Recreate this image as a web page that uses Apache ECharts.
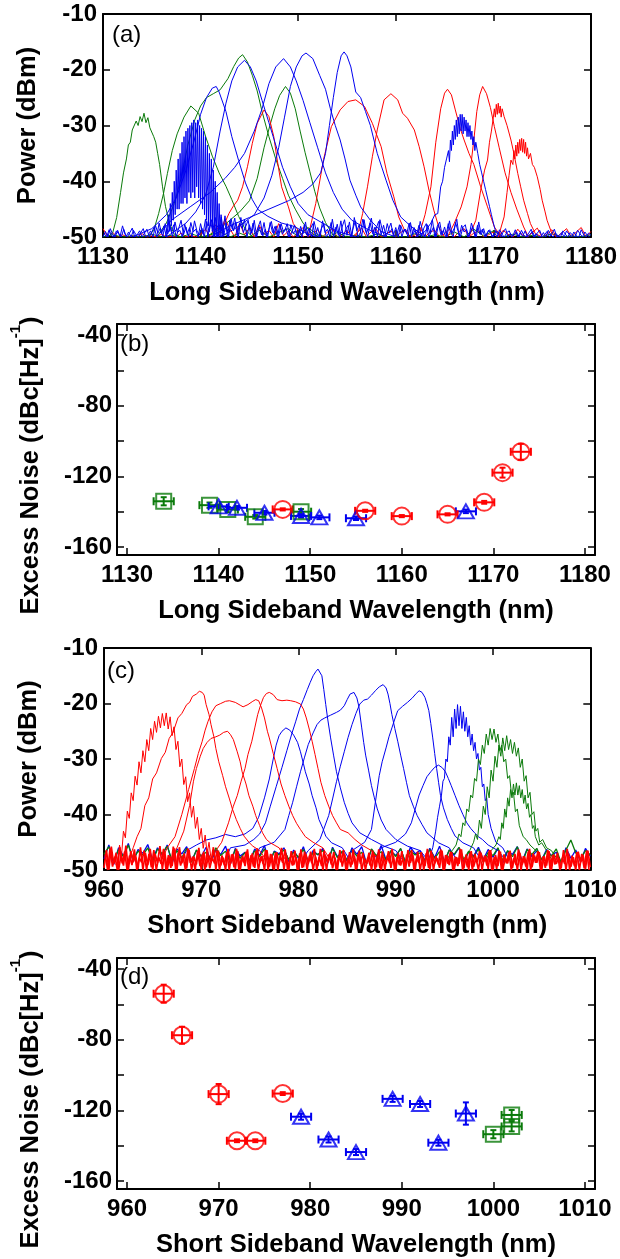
<!DOCTYPE html>
<html><head><meta charset="utf-8">
<script src="https://cdn.jsdelivr.net/npm/echarts@6/dist/echarts.min.js"></script>
<style>html,body{margin:0;padding:0;background:#fff}#chart{width:620px;height:1259px}</style>
</head><body><div id="chart"></div>
<script>
// ---------------- Panel (a): long sideband spectra ----------------
const a_G1 = [[1130.5,-50],[1131,-49.2],[1131.4,-46.5],[1131.8,-42],[1132.1,-38.5],[1132.4,-36],[1132.6,-33.5],[1132.8,-33],[1133,-30.8],[1133.2,-31],[1133.4,-29.2],[1133.6,-30],[1133.8,-28.4],[1134,-29.3],[1134.2,-27.8],[1134.4,-29.5],[1134.6,-28.6],[1134.8,-30.4],[1135,-30.2],[1135.2,-32],[1135.4,-33],[1135.6,-35],[1135.8,-37],[1136.1,-41],[1136.4,-44.5],[1136.8,-47.5],[1137.3,-49.5],[1138,-50]];
const a_G2 = [[1134.6,-50],[1135.2,-48.8],[1135.7,-45.8],[1136.2,-42.2],[1136.6,-38.6],[1137.1,-34.5],[1137.6,-31.5],[1138.3,-28.5],[1139,-26.5],[1139.8,-27.8],[1140.5,-31.9],[1141.2,-35.5],[1141.9,-38.5],[1142.6,-40.9],[1143.2,-43.3],[1143.9,-46.3],[1144.6,-48.7],[1145.3,-50]];
const a_G3 = [[1135.5,-50],[1136.5,-47.5],[1137.3,-44],[1138,-39.5],[1138.7,-33.5],[1139.4,-29],[1140,-26.5],[1140.6,-25],[1141.3,-24.3],[1142,-23.6],[1142.8,-21.6],[1143.4,-19.4],[1143.9,-17.9],[1144.3,-17.3],[1144.8,-18.6],[1145.3,-21],[1145.8,-23.8],[1146.3,-27.5],[1147,-32],[1147.7,-36],[1148.4,-39.5],[1149,-42.5],[1149.7,-45],[1150.5,-47.5],[1151.5,-49.5],[1152.3,-50]];
const a_G4 = [[1140.5,-50],[1142,-48.5],[1143,-47],[1144,-45.5],[1145,-43.5],[1145.8,-39.5],[1146.5,-34],[1147.1,-30],[1147.6,-27],[1148.1,-24.6],[1148.7,-23],[1149.2,-24.2],[1149.7,-27],[1150.2,-31],[1150.7,-34.8],[1151.2,-38.3],[1151.7,-41.8],[1152.2,-44.8],[1152.8,-47.4],[1153.5,-49.5],[1154.2,-50]];
const a_B1 = [[1136.4,-50],[1136.6,-48],[1136.7,-46],[1136.8,-49],[1136.9,-44],[1137.0,-48],[1137.1,-42],[1137.2,-47],[1137.3,-40],[1137.4,-46],[1137.5,-38],[1137.6,-45],[1137.7,-36],[1137.8,-45],[1137.9,-35],[1138.0,-44],[1138.1,-33],[1138.2,-44],[1138.3,-32],[1138.4,-43],[1138.5,-31],[1138.6,-44],[1138.7,-30.5],[1138.8,-42],[1138.9,-30],[1139.0,-43],[1139.1,-29.5],[1139.2,-42],[1139.3,-29],[1139.4,-43],[1139.5,-29.5],[1139.6,-41],[1139.7,-29],[1139.8,-43],[1139.9,-30],[1140.0,-44],[1140.1,-30.5],[1140.2,-45],[1140.3,-31],[1140.4,-46],[1140.5,-32],[1140.6,-47],[1140.7,-33.5],[1140.8,-48],[1140.9,-35],[1141.0,-48],[1141.1,-36],[1141.2,-49],[1141.3,-38],[1141.4,-50],[1141.5,-40],[1141.6,-50],[1141.7,-42],[1141.8,-50],[1141.9,-44],[1142.0,-50],[1142.1,-46],[1142.2,-50],[1142.3,-48],[1142.4,-50]];
const a_B2 = [[1133,-50],[1135,-48.5],[1136.5,-46],[1137.5,-43],[1138.5,-38],[1139.3,-33],[1140,-28],[1140.6,-25],[1141.2,-23.3],[1141.6,-23],[1141.9,-24],[1142.6,-27.5],[1143.2,-32],[1143.9,-36.3],[1144.6,-40.3],[1145.3,-43.3],[1145.9,-45.1],[1146.9,-46.3],[1148.3,-47.5],[1149.6,-48.1],[1151,-49.5],[1152,-50]];
const a_B3 = [[1136.5,-50],[1138.5,-47.5],[1139.5,-45.5],[1140.5,-42.5],[1141.3,-37.5],[1142,-31],[1142.6,-26],[1143.2,-22],[1143.8,-19.5],[1144.5,-18.3],[1145.1,-19.5],[1145.7,-22],[1146.3,-25.5],[1147,-29.5],[1147.7,-33.5],[1148.4,-37.5],[1149.2,-41],[1150,-44],[1151,-46],[1152.5,-47.5],[1154,-49],[1156,-50]];
const a_B4 = [[1135.5,-50],[1137,-47],[1139,-44.5],[1141,-42],[1142.5,-39.5],[1143.5,-37.5],[1144.5,-35],[1145.5,-31],[1146.3,-27],[1147,-22.5],[1147.7,-19.5],[1148.5,-18],[1149.2,-19.5],[1149.8,-22],[1150.5,-25.5],[1151.2,-29.5],[1152,-34],[1152.8,-38.5],[1153.6,-42],[1154.5,-45],[1155.5,-47],[1157,-48.5],[1159,-50]];
const a_B5 = [[1142,-50],[1144,-48],[1145.5,-46],[1146.5,-43],[1147.3,-39],[1148,-34],[1148.6,-28.5],[1149.2,-23],[1149.8,-19.5],[1150.4,-17.5],[1150.8,-17],[1151.5,-18],[1152.2,-21],[1152.8,-23.5],[1153.3,-27],[1153.8,-30],[1154.3,-32.6],[1154.8,-36],[1155.3,-39.8],[1155.9,-42.5],[1156.4,-44.6],[1157.4,-47],[1158.5,-49],[1160,-50]];
const a_B6 = [[1141,-50],[1143,-48],[1145,-46.5],[1147,-45],[1149,-43.5],[1150.5,-42],[1151.5,-40.5],[1152.3,-38.5],[1152.8,-35],[1153.2,-30],[1153.6,-25],[1154,-20.5],[1154.4,-17.5],[1154.7,-16.8],[1155,-17.5],[1155.4,-19.5],[1155.9,-24],[1156.4,-25],[1156.9,-27.5],[1157.4,-30],[1158.1,-35],[1159,-39.8],[1159.7,-43.4],[1160.5,-46.4],[1161.5,-48],[1163,-50]];
const a_B7 = [[1162,-50],[1163,-49],[1163.6,-47.5],[1164,-46],[1164.3,-45.8],[1164.6,-41],[1164.8,-40],[1165,-37.5],[1165.2,-36],[1165.4,-34.5],[1165.5,-36.5],[1165.6,-32.6],[1165.7,-34.5],[1165.8,-31],[1165.9,-33.5],[1166,-30],[1166.1,-32.5],[1166.2,-29],[1166.3,-32],[1166.4,-28.5],[1166.5,-31.5],[1166.6,-28],[1166.7,-31],[1166.8,-28],[1166.9,-31.5],[1167,-28.5],[1167.1,-31],[1167.2,-29],[1167.3,-32],[1167.4,-29.5],[1167.5,-32],[1167.6,-30],[1167.7,-32.5],[1167.8,-31],[1167.9,-33.5],[1168,-32],[1168.1,-34.5],[1168.2,-33],[1168.4,-35],[1168.6,-37],[1168.8,-38.5],[1169,-40],[1169.2,-41.5],[1169.4,-43],[1169.6,-44.5],[1169.8,-46],[1170,-47.5],[1170.2,-48.8],[1171,-50]];
const a_R1 = [[1141.8,-50],[1142.6,-47],[1142.9,-45.8],[1143.3,-44.6],[1143.8,-43.4],[1144.3,-41],[1144.8,-37.4],[1145.3,-33.2],[1145.8,-29.6],[1146.5,-27.2],[1147,-28.4],[1147.5,-32],[1147.8,-35.6],[1148.3,-41],[1149,-44.6],[1149.5,-47.6],[1150,-48.8],[1150.6,-50]];
const a_R2 = [[1151,-50],[1151.8,-44],[1152.6,-36.1],[1153.4,-30.2],[1154.3,-27.2],[1155.1,-25.7],[1155.9,-25.4],[1156.8,-26.6],[1157.6,-29.6],[1158.5,-33.8],[1159.1,-38.6],[1159.8,-42.8],[1160.3,-46.4],[1160.9,-48.8],[1161.5,-50]];
const a_R3 = [[1155.8,-50],[1156.2,-48.8],[1156.6,-45.8],[1157.1,-41],[1157.6,-35.6],[1158.1,-30.8],[1158.8,-25.4],[1159.5,-24.3],[1160.2,-25.4],[1160.7,-27.8],[1161.2,-28.7],[1161.9,-30.8],[1162.4,-33.8],[1162.9,-37.4],[1163.4,-41.6],[1163.9,-45.2],[1164.4,-48.2],[1165,-50]];
const a_R4 = [[1162,-50],[1162.5,-49],[1163,-46],[1163.6,-41],[1164.1,-33],[1164.6,-27],[1165,-24.2],[1165.3,-23.5],[1165.7,-24.5],[1166.1,-27.2],[1166.6,-30.5],[1167,-32.6],[1167.5,-35],[1168,-37],[1168.7,-41],[1169.4,-44.6],[1170.1,-48.2],[1170.8,-50]];
const a_R5 = [[1165.3,-50],[1166,-47.5],[1166.7,-44.6],[1167.3,-41],[1167.7,-37],[1168,-32.6],[1168.3,-27.5],[1168.6,-24.5],[1168.9,-23],[1169.3,-24.3],[1169.7,-26.8],[1170.1,-30.2],[1170.6,-34],[1171.2,-38.5],[1171.8,-42],[1172.4,-45],[1173.1,-48.2],[1173.6,-50]];
const a_R6 = [[1167.5,-50],[1168.2,-47],[1168.7,-41.6],[1169.1,-38],[1169.4,-36.2],[1169.6,-33],[1169.8,-31],[1170,-28.5],[1170.1,-27],[1170.2,-28.5],[1170.3,-26.2],[1170.4,-28],[1170.5,-26],[1170.6,-27.8],[1170.7,-26.5],[1170.8,-28.5],[1170.9,-27],[1171.1,-28.4],[1171.4,-30],[1171.8,-32.6],[1172.1,-35],[1172.5,-38.6],[1172.8,-41],[1173.1,-43.4],[1173.5,-45.8],[1173.8,-47.6],[1174.3,-49.4],[1175,-50]];
const a_R7 = [[1170.5,-50],[1171.1,-46.4],[1171.4,-42],[1171.6,-39],[1171.8,-36.2],[1172,-37],[1172.1,-34.5],[1172.2,-36],[1172.3,-33.5],[1172.4,-35.5],[1172.5,-33],[1172.6,-35],[1172.7,-32.5],[1172.8,-34.5],[1172.9,-32.3],[1173,-34.8],[1173.1,-32.5],[1173.2,-35],[1173.3,-33],[1173.4,-35.5],[1173.5,-34],[1173.6,-36],[1173.8,-35],[1174,-37],[1174.2,-37.5],[1174.5,-39.2],[1174.8,-41.5],[1175,-43.4],[1175.3,-45.5],[1175.5,-47],[1176,-49.4],[1176.5,-50]];
// baseline noise of panel (a): OSA samples from the start wavelength upward
const a_noiseStart = 1130;
const a_blueNoiseStep = 0.25;
const a_blueNoise = [-50,-49,-50,-48.5,-49.6,-50,-48.8,-49.9,-48,-49.5,-50,-49.2,-48.4,-50,-49.6,-48.9,-50,-49.3,-48.6,-50,
-49.1,-48.2,-50,-47.5,-49.4,-48,-50,-47.2,-49,-47.8,-50,-48.5,-47,-49.6,-48.2,-50,-47.4,-49.1,-48.6,-50,
-47.6,-49.5,-46.8,-50,-47.3,-48.8,-46.5,-50,-47.9,-49.2,-46.2,-50,-47,-48.6,-46.6,-49.8,-47.5,-48.4,-46.9,-50,
-47.8,-49.3,-47,-50,-48.2,-49.6,-47.4,-50,-48.6,-47.2,-49.5,-48,-50,-47.6,-49.1,-48.4,-50,-47.8,-49.4,-48.7,
-50,-48.1,-49.4,-47.3,-50,-48.5,-47.6,-49.8,-48.3,-50,-47.1,-49.2,-48.6,-50,-46.8,-49.5,-47.7,-50,-48.2,-46.9,
-49.7,-47.3,-50,-46.5,-48.9,-47.8,-50,-46.9,-49.3,-48.1,-46.6,-50,-48.4,-47.2,-49.6,-47.9,-50,-48.7,-47.5,-49.8,
-48.3,-50,-47.9,-49.2,-48.6,-50,-47.4,-49.5,-48.8,-50,-47.2,-48.9,-50,-47.8,-49.4,-46.9,-50,-48.1,-47.3,-49.7,
-48.2,-50,-47.1,-49.3,-48.4,-46.8,-50,-47.9,-49.1,-48.6,-50,-47.5,-48.9,-50,-47.3,-49.6,-48.5,-50,-48.8,-49.4,
-50,-48.9,-49.6,-50,-49.1,-48.5,-50,-49.4,-49.8,-48.7,-50,-49.2,-49.9,-48.9,-50,-49.5,-49,-50,-49.3,-48.8,
-50,-49.6,-49,-50,-49.4,-48.6,-50,-49.7,-49.2,-50,-48.9,-49.5,-50,-49.1,-49.8,-50,-48.7,-49.6,-50,-49.3,-49.7];
const a_blueNoise2Start = 1130.125;
const a_blueNoise2 = [-49.4,-50,-48.7,-49.8,-50,-48.9,-49.5,-50,-48.6,-49.9,-49.1,-50,-48.8,-49.6,-50,-49.2,-48.5,-50,-49.7,-48.9,
-50,-47.9,-49.3,-48.4,-50,-47.6,-49.5,-48.1,-50,-47.3,-49.2,-48.8,-50,-47.7,-49.4,-48.3,-50,-47.1,-48.9,-49.6,
-48.4,-50,-47.2,-49.1,-46.9,-50,-47.8,-48.5,-46.4,-49.7,-47.5,-50,-46.7,-48.9,-47.3,-50,-46.5,-49.2,-48.1,-47,
-49.6,-47.5,-50,-48.3,-47.1,-49.8,-48.6,-50,-47.4,-49.2,-48.1,-50,-47.7,-49.5,-48.8,-47.6,-50,-49,-47.9,-50,
-48.6,-50,-47.8,-49.6,-48.4,-50,-47.2,-49.1,-50,-48.5,-47.6,-50,-49.3,-47.4,-50,-48.2,-49.7,-47.1,-50,-48.6,
-47.9,-50,-48.4,-47.1,-50,-49.2,-46.8,-48.7,-50,-47.5,-49.4,-48.2,-50,-46.9,-48.8,-50,-47.6,-49.3,-48.5,-50,
-49.5,-47.8,-50,-48.6,-49.4,-47.5,-50,-48.3,-49.7,-47.9,-50,-48.4,-47.6,-50,-49.1,-48.2,-50,-47.7,-49.6,-48.8,
-50,-47.6,-49.2,-50,-47.4,-48.9,-50,-48.3,-47.8,-50,-49.3,-48.1,-50,-47.9,-49.5,-48.6,-50,-49.2,-48.7,-50,
-49.3,-50,-48.7,-49.5,-50,-49.2,-48.9,-50,-49.6,-49.1,-50,-48.8,-49.7,-50,-49.3,-48.6,-50,-49.4,-49.9,-50,
-49.2,-50,-48.8,-49.6,-50,-49.3,-49.8,-50,-48.9,-49.5,-50,-49.2,-49.7,-50,-48.8,-49.4,-50,-49.1,-49.7,-50];
const a_redNoiseStep = 0.5;
const a_redNoise = [-48.5,-50,-49.2,-50,-49.6,-50,-49.8,-50,-49.4,-50,
-49.8,-50,-49.5,-50,-49.9,-50,-49.3,-50,-49.7,-50,
-49.5,-48.6,-50,-47.8,-49.2,-46.8,-48.5,-50,-47.5,-49.6,
-48.4,-50,-47.9,-49.5,-48.8,-50,-47.6,-49.8,-48.9,-50,
-49.2,-48.3,-50,-49.4,-48.7,-50,-49.1,-48.5,-50,-49.6,
-48.8,-50,-49.3,-48.4,-50,-49,-48.6,-50,-49.5,-48.9,
-50,-49.2,-48.7,-50,-49.6,-48.3,-50,-49.1,-48.8,-50,
-49.4,-48.6,-50,-49,-48.5,-50,-49.3,-48.9,-50,-49.6,
-49.1,-50,-48.8,-49.5,-50,-48.6,-49.7,-50,-49.2,-48.4,
-50,-49.5,-48.7,-50,-49.3,-48.5,-50,-49.1,-48.3,-50,-49];
const a_greenNoiseStep = 1;
const a_greenNoise = [-50,-49.6,-50,-49.8,-50,-49.5,-50,-49.7,-50,-49.4,
-50,-49.6,-49.1,-50,-49.3,-50,-48.8,-50,-49.2,-48.5,
-50,-48.3,-49.6,-50,-49.2,-50,-49.7,-50,-49.5,-50,
-49.8,-50,-49.4,-50,-49.6,-50,-49.1,-50,-48.6,-49.8,
-48.9,-50,-49.5,-50,-49.7,-50,-49.4,-50,-49.8,-50,-49.6];

// ---------------- Panel (b): long sideband excess noise ----------------
const b_greenX = [1134, 1139, 1141, 1144, 1149];
const b_greenY = [-134.1, -136.3, -138.8, -142.9, -140.0];
const b_greenYErr = [2.3, 1.5, 1.5, 1.0, 1.5];
const b_blueX = [1140, 1142, 1145, 1149, 1151, 1155, 1167];
const b_blueY = [-137.0, -137.8, -140.6, -142.4, -143.2, -143.7, -139.8];
const b_blueYErr = [1, 1, 1, 1, 1, 1, 1];
const b_redX = [1147, 1156, 1160, 1165, 1169, 1171, 1173];
const b_redY = [-138.7, -139.5, -142.5, -141.5, -134.7, -117.9, -106.1];
const b_redYErr = [0.6, 0.6, 0.6, 0.6, 0.8, 2.8, 4.5];
const b_xErr = 1.1;

// ---------------- Panel (c): short sideband spectra ----------------
const c_R1 = [[961.2,-49],[961.4,-48.5],[961.6,-45.5],[961.8,-47.5],[962.0,-43],[962.2,-44.2],[962.4,-39.4],[962.6,-40.7],[962.8,-36.1],[963.0,-37.5],[963.2,-33.1],[963.4,-34.7],[963.6,-30.5],[963.8,-32.5],[964.0,-28.5],[964.2,-30.5],[964.4,-26.5],[964.6,-28.5],[964.8,-24.5],[965.0,-26.5],[965.2,-23.2],[965.4,-25.2],[965.6,-22.3],[965.8,-24.4],[966.0,-21.8],[966.2,-24],[966.4,-21.7],[966.6,-24.6],[966.8,-22.4],[967.0,-25.8],[967.2,-24.2],[967.4,-28.3],[967.6,-26.8],[967.8,-31.4],[968.0,-30],[968.2,-34.6],[968.4,-33.2],[968.6,-37.7],[968.8,-36.1],[969.0,-40.5],[969.2,-38.5],[969.4,-42.5],[969.6,-40.5],[969.8,-44.5],[970.0,-42.5],[970.2,-46.1],[970.4,-43.7],[970.6,-47],[970.8,-45],[971.0,-48],[971.4,-48.5]];
const c_R2 = [[962.6,-48],[963,-46],[963.4,-44],[963.8,-42.5],[964.2,-38.4],[964.6,-37],[965,-33.6],[965.4,-32.5],[965.9,-29.9],[966.3,-28.8],[966.7,-26.3],[967.1,-25.2],[967.6,-22.6],[968,-21.8],[968.5,-20.2],[968.8,-19.8],[969.1,-18.7],[969.5,-18.3],[969.8,-17.8],[970.1,-18],[970.3,-18.5],[970.5,-20.2],[970.8,-22],[971,-23.8],[971.3,-26],[971.5,-28.1],[971.8,-30.5],[972.2,-33],[972.5,-35],[972.9,-37.2],[973.2,-39],[973.6,-40.9],[974,-42.5],[974.4,-43.9],[974.9,-45],[975.3,-45.7],[976,-46.5],[976.6,-48]];
const c_R3 = [[967,-48],[967.5,-46],[968.2,-43],[968.8,-38.4],[969.2,-34],[969.5,-31.7],[969.9,-29.5],[970.2,-28.1],[970.6,-27],[971,-26.3],[971.5,-26],[971.9,-25.7],[972.3,-25.2],[972.7,-25],[973,-25.6],[973.3,-26.5],[973.7,-28.7],[974,-30.5],[974.2,-32.3],[974.6,-34.5],[974.9,-36.6],[975.3,-38.5],[975.6,-40.2],[976,-42],[976.3,-43.3],[976.7,-44.5],[977.1,-45.1],[978,-46],[978.6,-48]];
const c_R4 = [[966,-48],[966.5,-46],[967.3,-44],[968,-40],[968.7,-35.5],[969.3,-31.7],[969.7,-29],[970.1,-26.8],[970.4,-24.8],[970.7,-23.2],[971.1,-21.5],[971.5,-20.4],[972,-20],[972.5,-19.6],[972.9,-19.5],[973.5,-19.8],[974,-20.3],[974.3,-20.6],[974.8,-20.2],[975.3,-19.6],[975.6,-19.3],[975.9,-19.5],[976.2,-20.8],[976.5,-22.6],[976.8,-25],[977,-26.2],[977.4,-29],[977.8,-31.7],[978.2,-34.5],[978.6,-36.6],[979,-38.5],[979.4,-40.2],[979.8,-41.6],[980.2,-42.7],[980.7,-44],[981.5,-45],[982.5,-46],[983.2,-48]];
const c_R5 = [[971,-48],[971.5,-46.5],[972.1,-45],[972.8,-41.5],[973.3,-38.5],[973.7,-36.6],[974.1,-34],[974.5,-31.7],[974.8,-29.2],[975.2,-26.8],[975.5,-24.4],[975.8,-22],[976.1,-20.3],[976.4,-18.9],[976.7,-18.2],[977,-18],[977.4,-18.4],[977.8,-19.3],[978.3,-19.5],[978.8,-19.4],[979.2,-19.5],[979.7,-19.7],[980.2,-20.1],[980.5,-21],[980.8,-22.6],[981.1,-24.6],[981.4,-26.8],[981.7,-29.2],[982,-31.7],[982.3,-34.2],[982.7,-36.6],[983.1,-38.5],[983.5,-40.2],[983.9,-41.5],[984.3,-42.7],[985.1,-43.3],[985.8,-44.5],[986.5,-45.5],[987.5,-46.5],[988.2,-48]];
const c_B1 = [[972.5,-48],[973,-46],[974.5,-45.5],[975.4,-44.5],[976,-43.5],[976.6,-41.5],[977.1,-38.5],[977.7,-35],[978.3,-31.5],[978.8,-28.5],[979.3,-25.5],[979.7,-23.3],[980.1,-21],[980.5,-19.3],[980.9,-17.5],[981.2,-16.2],[981.5,-15],[981.8,-14.2],[982,-13.8],[982.2,-14.1],[982.4,-15],[982.6,-17.5],[982.8,-20.2],[983,-22.8],[983.3,-26.2],[983.6,-29.3],[983.9,-32.3],[984.3,-35.2],[984.7,-37.8],[985.1,-39.8],[985.5,-41.5],[986.3,-43.3],[987.5,-44.5],[988.8,-45.7],[990,-46.5],[990.6,-48]];
const c_B2 = [[968,-48],[968.5,-46.5],[969.5,-45.5],[970.5,-44.6],[971.5,-44.2],[972.5,-43.6],[973.5,-44],[974.5,-43.5],[975.3,-42.5],[975.9,-40.5],[976.5,-37],[977,-33.6],[977.4,-30],[977.7,-27.5],[978,-25.8],[978.3,-25],[978.7,-24.4],[979.1,-24.8],[979.5,-25.7],[979.9,-27],[980.2,-28.7],[980.5,-30.8],[980.7,-32.3],[981.1,-34.5],[981.4,-36.6],[981.8,-38.8],[982.1,-40.9],[982.5,-42.5],[982.8,-43.9],[983.4,-45.1],[984.5,-46],[985.2,-48]];
const c_B3 = [[975.5,-48],[976,-46],[977.5,-45],[978.6,-42.7],[979,-40.2],[979.4,-37.8],[979.8,-35],[980.2,-32.3],[980.6,-29.8],[981,-27.4],[981.5,-25.3],[981.9,-23.8],[982.3,-23],[982.7,-22.6],[983.3,-22.1],[983.9,-21.6],[984.3,-21.2],[984.7,-20.4],[985,-19.3],[985.3,-18.3],[985.7,-18],[986,-19],[986.2,-20.5],[986.5,-24.4],[986.7,-27],[986.9,-29.3],[987.2,-32],[987.5,-34.8],[987.8,-37],[988.1,-39],[988.5,-41],[989,-42.7],[990,-44.5],[991.2,-45.7],[992.5,-46.5],[993.2,-48]];
const c_B4 = [[980.4,-48],[981,-46.5],[982.2,-44.5],[983.1,-40.2],[983.5,-37.2],[983.9,-34.1],[984.3,-31.3],[984.7,-28.7],[985.1,-26.1],[985.5,-23.8],[985.9,-21.8],[986.3,-20.1],[986.7,-19.4],[987.1,-19.2],[987.5,-18.5],[987.9,-17.7],[988.3,-17],[988.7,-16.6],[989,-17.2],[989.2,-18.3],[989.4,-20],[989.6,-22],[989.9,-24.5],[990.2,-26.8],[990.5,-29.3],[990.8,-31.7],[991.1,-34.2],[991.4,-36.6],[991.8,-38.5],[992.2,-40.2],[992.7,-41.8],[993.2,-43.3],[994.4,-45.1],[995.5,-46],[996.2,-48]];
const c_B5 = [[985,-48],[985.5,-46.5],[986.8,-45],[987.5,-42.7],[987.9,-37.8],[988.3,-33],[988.6,-30.5],[989,-28],[989.3,-26],[989.6,-24.4],[989.9,-22.8],[990.2,-21.3],[990.7,-20.5],[991.2,-19.8],[991.7,-19],[992.1,-18.2],[992.4,-17.7],[992.7,-18],[993,-18.9],[993.2,-20],[993.4,-21.3],[993.6,-23.6],[993.8,-26.2],[994,-29],[994.2,-31.7],[994.4,-34.2],[994.6,-36.6],[994.9,-38.8],[995.3,-40.9],[995.7,-42.5],[996.1,-43.9],[996.9,-45.1],[998,-46],[998.7,-48]];
const c_B6 = [[993.4,-48],[993.8,-46],[994.1,-43],[994.3,-40.5],[994.5,-38.5],[994.7,-36.5],[994.85,-34],[995,-33.5],[995.15,-30],[995.3,-30.5],[995.45,-26],[995.6,-27.5],[995.75,-22.5],[995.9,-26],[996.05,-21],[996.2,-24.5],[996.35,-20.2],[996.5,-24],[996.65,-20.5],[996.8,-24.5],[996.95,-21.5],[997.1,-25],[997.25,-22.5],[997.4,-26],[997.55,-24],[997.7,-27.5],[997.85,-25.5],[998,-28.5],[998.15,-27],[998.3,-30],[998.45,-29],[998.6,-32],[998.75,-31.5],[998.9,-35],[999.05,-34.5],[999.2,-37.5],[999.35,-37],[999.5,-40],[999.65,-40],[999.8,-42.5],[1000,-43.5],[1000.3,-45],[1001,-46],[1001.6,-48]];
const c_B7 = [[988,-48],[988.5,-46],[990,-45],[991,-43.5],[991.6,-41.5],[992,-39],[992.4,-36.5],[992.8,-34.8],[993.2,-33.2],[993.6,-32.3],[994,-31.5],[994.4,-31.1],[994.8,-31.6],[995.1,-32.3],[995.4,-33.5],[995.7,-34.8],[996.1,-36.6],[996.5,-38.4],[996.9,-40],[997.3,-41.5],[997.7,-42.5],[998.1,-43.3],[998.5,-44],[998.9,-44.5],[999.5,-45.5],[1000.5,-46.5],[1001.2,-48]];
const c_G1 = [[995.3,-48],[995.8,-46.5],[996.2,-45.5],[996.5,-43.5],[996.7,-44],[996.9,-41.5],[997.1,-42],[997.3,-39],[997.5,-39.5],[997.7,-36.5],[997.9,-37],[998.1,-33.5],[998.3,-34],[998.5,-30],[998.7,-31],[998.9,-27.5],[999.1,-29],[999.3,-25.5],[999.5,-27.5],[999.7,-24.5],[999.9,-26.5],[1000.1,-24.6],[1000.3,-27],[1000.5,-25.5],[1000.7,-28.5],[1000.9,-27.5],[1001.1,-30.5],[1001.3,-30],[1001.5,-33.5],[1001.7,-33],[1001.9,-36.5],[1002.1,-36],[1002.3,-39.5],[1002.5,-39],[1002.7,-42],[1002.9,-42],[1003.1,-44],[1003.4,-44.5],[1003.8,-45.5],[1004.4,-46.5],[1005,-48]];
const c_G2 = [[997.1,-48],[997.6,-46.5],[998.0,-45],[998.2,-43.5],[998.4,-44.5],[998.6,-41],[998.8,-42.5],[999.0,-38.5],[999.2,-40],[999.4,-35],[999.6,-37],[999.8,-32],[1000,-34],[1000.2,-29.5],[1000.4,-31.5],[1000.6,-27.5],[1000.8,-29.5],[1001,-26.2],[1001.2,-28.5],[1001.4,-25.8],[1001.6,-28.3],[1001.8,-26.5],[1002,-29],[1002.2,-27],[1002.4,-29.5],[1002.6,-28],[1002.8,-31.5],[1003,-30],[1003.2,-34],[1003.4,-33],[1003.6,-37],[1003.8,-36],[1004,-40],[1004.2,-39.5],[1004.4,-43],[1004.6,-42.5],[1004.8,-45],[1005.1,-44.5],[1005.5,-46],[1006,-46.5],[1006.6,-48]];
const c_G3 = [[999.3,-48],[999.8,-46.5],[1000.3,-45.5],[1000.6,-44],[1000.75,-44.5],[1000.9,-41.5],[1001.05,-42.5],[1001.2,-39],[1001.35,-40.5],[1001.5,-37],[1001.65,-38.5],[1001.8,-35.5],[1001.95,-37],[1002.1,-34.5],[1002.25,-36.5],[1002.4,-34.3],[1002.55,-36.5],[1002.7,-34.8],[1002.85,-37],[1003,-35.5],[1003.15,-38],[1003.3,-36.5],[1003.45,-39],[1003.6,-38],[1003.75,-40.5],[1003.9,-40],[1004.05,-42.5],[1004.2,-42],[1004.35,-44],[1004.5,-43.9],[1004.7,-45.5],[1005,-45.1],[1005.5,-46.5],[1006,-48]];
// baseline noise band of panel (c): OSA samples from the start wavelength upward
const c_noiseStart = 960;
const c_redNoiseStep = 0.25;
const c_redNoise = [-49.6,-46.4,-50,-45.8,-48.9,-46.9,-50,-47.3,-49.2,-45.6,-50,-46.6,-48.6,-47.4,-49.8,-45.9,-50,-46.9,-49.1,-46.2,
-50,-47.1,-48.7,-45.7,-49.9,-46.8,-50,-47.5,-49.3,-46.1,-50,-45.9,-48.8,-47,-49.7,-46.4,-50,-47.6,-49,-46,
-50,-46.7,-49.5,-47.3,-48.6,-45.9,-50,-46.5,-49.2,-47.8,-50,-46.2,-48.9,-47.1,-49.8,-46.6,-50,-47.4,-49.3,-46.3,
-50,-47,-49.6,-46.1,-48.7,-47.5,-50,-46.4,-49.4,-47.2,-50,-46.8,-48.8,-46,-49.9,-47.3,-50,-46.6,-49.1,-47.7,
-50,-46.3,-49.5,-47.1,-48.9,-46.7,-50,-47.6,-49.2,-46.2,-50,-47.3,-48.6,-46.9,-49.7,-47.8,-50,-46.4,-49.4,-47.2,
-50,-46.8,-49,-47.5,-49.8,-46.5,-50,-47.9,-48.8,-46.9,-50,-47.2,-49.5,-46.3,-50,-47.7,-48.9,-46.6,-49.6,-47.4,
-50,-46.9,-49.2,-47.8,-50,-46.4,-48.7,-47.3,-49.9,-46.7,-50,-47.6,-49.3,-46.2,-50,-47.1,-48.8,-47.9,-49.6,-46.5,
-50,-47.4,-49.1,-46.8,-50,-47.7,-48.9,-46.3,-49.7,-47.2,-50,-46.6,-49.4,-47.9,-50,-46.9,-48.6,-47.5,-49.8,-46.4,
-50,-47.3,-49.3,-46.7,-50,-47.8,-48.8,-46.5,-49.6,-47.1,-50,-46.9,-49,-47.6,-50,-46.2,-49.5,-47.4,-48.7,-46.8,
-50,-47.5,-49.2,-46.6,-50,-47.2,-48.9,-47.8,-49.7,-46.4,-50,-47,-49.4,-47.7,-50,-46.7,-48.6,-47.3,-49.9,-46.5,-49.5];
const c_redNoise2Start = 960.125;
const c_redNoise2 = [-47.2,-50,-46.1,-49.4,-47.6,-50,-45.9,-48.8,-46.7,-50,-47.4,-49.1,-46.3,-50,-47.8,-48.6,-46.5,-50,-47.1,-49.5,
-46.4,-50,-47.7,-48.9,-46.2,-50,-47.3,-49.6,-45.8,-50,-46.9,-49.2,-47.5,-50,-46.1,-48.7,-47.6,-50,-46.6,-49.3,
-47.1,-50,-46.3,-49.7,-47.8,-48.8,-46.5,-50,-47.4,-49.1,-46.8,-50,-47.2,-49.5,-46.2,-50,-47.9,-48.6,-46.7,-50,
-47.3,-49.4,-46.6,-50,-47.6,-48.9,-46.4,-50,-47.1,-49.8,-46.9,-50,-47.5,-48.7,-46.3,-50,-47.8,-49.2,-46.5,-50,
-47,-49.6,-46.7,-50,-47.4,-48.8,-46.2,-50,-47.7,-49.3,-46.6,-50,-47.2,-49,-46.8,-50,-47.5,-48.6,-46.4,-50,
-47.6,-49.5,-46.3,-50,-47.1,-48.9,-46.9,-50,-47.8,-49.2,-46.5,-50,-47.3,-49.7,-46.7,-50,-47.4,-48.8,-46.2,-50,
-47.7,-49.1,-46.6,-50,-47.2,-49.4,-46.4,-50,-47.9,-48.7,-46.8,-50,-47,-49.6,-46.5,-50,-47.5,-49,-46.3,-50,
-47.3,-48.9,-46.7,-50,-47.6,-49.3,-46.2,-50,-47.8,-49.5,-46.9,-50,-47.1,-48.6,-46.6,-50,-47.4,-49.2,-46.4,-50,
-47.7,-49.8,-46.5,-50,-47.2,-48.8,-46.8,-50,-47.9,-49.1,-46.3,-50,-47.5,-49.4,-46.7,-50,-47,-48.7,-46.6,-50,
-47.6,-49.6,-46.4,-50,-47.3,-49,-46.9,-50,-47.8,-48.9,-46.2,-50,-47.4,-49.3,-46.8,-50,-47.1,-49.7,-46.5,-50];
const c_blueNoiseStep = 0.5;
const c_blueNoise = [-48,-45.5,-49,-46,-47.5,-45.2,-48.5,-46.3,-47,-45.4,
-48.2,-46,-47.3,-45.5,-48.8,-46.2,-47.1,-45.8,-48.4,-46.5,
-47.6,-45.9,-48.6,-46.4,-47.2,-45.7,-48.9,-46.1,-47.5,-46.8,
-48.3,-46.2,-47.4,-45.6,-48.7,-46.6,-47.1,-46,-48.5,-46.4,
-47.9,-45.8,-48.6,-46.5,-47.3,-46.1,-48.8,-45.9,-47.6,-46.7,
-48.4,-46,-47.2,-45.8,-48.9,-46.3,-47.7,-45.6,-48.2,-46.6,
-47.4,-46.2,-48.7,-45.9,-47.1,-46.5,-48.3,-46.1,-47.8,-45.7,
-48.5,-46.4,-47.3,-46,-48.6,-46.7,-47.5,-45.9,-48.1,-46.3,
-47.7,-46.1,-48.8,-46.6,-47.2,-45.8,-48.4,-46.2,-47.6,-46.5,
-48.2,-46.3,-47.4,-46.8,-48.7,-46,-47.9,-46.4,-48.5,-46.1,-47.5];
const c_greenNoiseStep = 0.5;
const c_greenNoise = [-47.2,-45.8,-48.4,-46.3,-47.6,-45.5,-48.1,-46.6,-47.3,-46,
-48.5,-46.2,-47.1,-45.7,-48.3,-46.5,-47.8,-46.1,-48.6,-46.4,
-47.5,-46.8,-48.2,-46,-47.4,-46.6,-48.7,-46.3,-47.9,-46.9,
-48.4,-46.5,-47.6,-46.2,-48.8,-46.7,-47.3,-46.4,-48.1,-46.8,
-47.7,-46.3,-48.5,-46.9,-47.2,-46.5,-48.6,-46.1,-47.8,-46.6,
-48.3,-46.4,-47.5,-46.8,-48.9,-46.2,-47.4,-46.7,-48.2,-46.5,
-47.6,-46.1,-48.7,-46.6,-47.3,-46.9,-48.4,-46.3,-47.9,-46.7,
-48.5,-46.4,-47.2,-45.9,-48.1,-46.6,-47.7,-46.2,-48.6,-46.8,
-47.4,-46,-48.3,-46.5,-47.6,-45.8,-48.8,-46.3,-47.2,-46.1,
-48.2,-46.6,-47.5,-46.2,-48.7,-46.4,-44.6,-46.9,-48,-46.5,-47.3];

// ---------------- Panel (d): short sideband excess noise ----------------
const d_redX = [964, 966, 970, 972, 974, 977];
const d_redY = [-54.0, -77.5, -110.8, -137.2, -137.2, -110.5];
const d_redYErr = [5.1, 4.8, 5.7, 0.8, 0.8, 0.8];
const d_blueX = [979, 982, 985, 989, 992, 994, 997];
const d_blueY = [-123.6, -136.5, -143.6, -113.5, -116.4, -138.3, -121.8];
const d_blueYErr = [1.7, 1.7, 1.7, 1.7, 1.7, 1.7, 6.3];
const d_greenX = [1000, 1002, 1002];
const d_greenY = [-133.5, -122.6, -129.1];
const d_greenYErr = [2.3, 2.8, 2.8];
const d_xErr = 1.1;

// ---------------- axis tick values ----------------
const a_xTicks = [1130, 1140, 1150, 1160, 1170, 1180];
const c_xTicks = [960, 970, 980, 990, 1000, 1010];
const noiseTicksAll = [-160, -140, -120, -100, -80, -60, -40];
const noiseTickLabels = [-160, -120, -80, -40];

// ================= build chart =================
const FONT = '"Liberation Sans", Arial, Helvetica, sans-serif';
const RED = '#ff0000', BLUE = '#0000f0', GREEN = '#0a7a0a';
const AXLINE = {show: true, onZero: false, lineStyle: {color: '#000', width: 2}};
const TICK = {show: true, inside: true, length: 7, lineStyle: {color: '#000', width: 1.5}};
const LBL = {color: '#000', fontSize: 24, fontWeight: 'bold', fontFamily: FONT, formatter: v => String(v)};
const NAME = {color: '#000', fontSize: 25.5, fontWeight: 'bold', fontFamily: FONT};

function noisePairs(start, step, vals) { return vals.map((v, i) => [start + i * step, v]); }

const grids = [
  {left: 103, top: 14, width: 492, height: 223},
  {left: 117, top: 324, width: 478, height: 231},
  {left: 104, top: 648, width: 489, height: 222},
  {left: 117, top: 958, width: 478, height: 231}
];

const xAxes = [], yAxes = [];
function spectrumAxes(gi, xmin, xmax, xname) {
  xAxes.push({type: 'value', gridIndex: gi, position: 'bottom', min: xmin, max: xmax, interval: 10,
    axisLine: AXLINE, axisTick: TICK, splitLine: {show: false},
    axisLabel: Object.assign({margin: 8, showMinLabel: true, showMaxLabel: true}, LBL),
    name: xname, nameLocation: 'middle', nameGap: 43, nameTextStyle: NAME});
  xAxes.push({type: 'value', gridIndex: gi, position: 'top', min: xmin, max: xmax, interval: 10,
    axisLine: AXLINE, axisTick: TICK, splitLine: {show: false}, axisLabel: {show: false}});
  yAxes.push({type: 'value', gridIndex: gi, position: 'left', min: -50, max: -10, interval: 10,
    axisLine: AXLINE, axisTick: TICK, splitLine: {show: false},
    axisLabel: Object.assign({margin: 6, showMinLabel: true, showMaxLabel: true}, LBL),
    name: 'Power (dBm)', nameLocation: 'middle', nameGap: 62, nameTextStyle: NAME});
  yAxes.push({type: 'value', gridIndex: gi, position: 'right', min: -50, max: -10, interval: 10,
    axisLine: AXLINE, axisTick: TICK, splitLine: {show: false}, axisLabel: {show: false}});
}
function noiseAxes(gi, xmin, xmax, xTicks, xname) {
  xAxes.push({type: 'value', gridIndex: gi, position: 'bottom', min: xmin, max: xmax,
    axisLine: AXLINE, axisTick: Object.assign({customValues: xTicks}, TICK), splitLine: {show: false},
    axisLabel: Object.assign({margin: 8, customValues: xTicks}, LBL),
    name: xname, nameLocation: 'middle', nameGap: 43, nameTextStyle: NAME});
  xAxes.push({type: 'value', gridIndex: gi, position: 'top', min: xmin, max: xmax,
    axisLine: AXLINE, axisTick: Object.assign({customValues: xTicks}, TICK), splitLine: {show: false}, axisLabel: {show: false}});
  yAxes.push({type: 'value', gridIndex: gi, position: 'left', min: -164.5, max: -33.8,
    axisLine: AXLINE, axisTick: Object.assign({customValues: noiseTicksAll}, TICK), splitLine: {show: false},
    axisLabel: Object.assign({margin: 5, customValues: noiseTickLabels}, LBL),
    name: '{m|Excess Noise (dBc[Hz]}{s|-1}{m|)}', nameLocation: 'middle', nameGap: 53,
    nameTextStyle: {padding: [0, 52, 0, 0], rich: {
      m: {fontSize: 25.5, fontWeight: 'bold', fontFamily: FONT, color: '#000', lineHeight: 25},
      s: {fontSize: 15, fontWeight: 'bold', fontFamily: FONT, color: '#000', lineHeight: 15, padding: [0, 0, 30, 0]}
    }}});
  yAxes.push({type: 'value', gridIndex: gi, position: 'right', min: -164.5, max: -33.8,
    axisLine: AXLINE, axisTick: Object.assign({customValues: noiseTicksAll}, TICK), splitLine: {show: false}, axisLabel: {show: false}});
}
spectrumAxes(0, 1130, 1180, 'Long Sideband Wavelength (nm)');
noiseAxes(1, 1128.9, 1181.1, a_xTicks, 'Long Sideband Wavelength (nm)');
spectrumAxes(2, 960, 1010, 'Short Sideband Wavelength (nm)');
noiseAxes(3, 958.9, 1011.1, c_xTicks, 'Short Sideband Wavelength (nm)');

const series = [];
function line(gi, data, color, w) {
  series.push({type: 'line', xAxisIndex: gi * 2, yAxisIndex: gi * 2, data: data, symbol: 'none', showSymbol: false,
    lineStyle: {color: color, width: w || 1}, itemStyle: {color: color}, silent: true, clip: true, z: 2});
}
// panel (a)
line(0, noisePairs(a_noiseStart, a_redNoiseStep, a_redNoise), RED);
line(0, noisePairs(a_noiseStart, a_greenNoiseStep, a_greenNoise), GREEN);
[a_G1, a_G2, a_G3, a_G4].forEach(d => line(0, d, GREEN));
[a_R1, a_R2, a_R3, a_R4, a_R5, a_R6, a_R7].forEach(d => line(0, d, RED));
[a_B1, a_B2, a_B3, a_B4, a_B5, a_B6, a_B7].forEach(d => line(0, d, BLUE));
line(0, noisePairs(a_noiseStart, a_blueNoiseStep, a_blueNoise), BLUE);
line(0, noisePairs(a_blueNoise2Start, a_blueNoiseStep, a_blueNoise2), BLUE);
// panel (c)
line(2, noisePairs(c_noiseStart, c_blueNoiseStep, c_blueNoise), BLUE, 1.3);
line(2, noisePairs(c_noiseStart, c_greenNoiseStep, c_greenNoise), GREEN, 1.3);
[c_B1, c_B2, c_B3, c_B4, c_B5, c_B6, c_B7].forEach(d => line(2, d, BLUE));
[c_G1, c_G2, c_G3].forEach(d => line(2, d, GREEN));
[c_R1, c_R2, c_R3, c_R4, c_R5].forEach(d => line(2, d, RED));
line(2, noisePairs(c_noiseStart, c_redNoiseStep, c_redNoise), RED, 1.7);
line(2, noisePairs(c_redNoise2Start, c_redNoiseStep, c_redNoise2), RED, 1.7);

// error bars + open markers
function errorBarRender(color) {
  return function (params, api) {
    const x = api.value(0), y = api.value(1), xe = api.value(2), ye = api.value(3);
    const L = api.coord([x - xe, y]), R = api.coord([x + xe, y]);
    const T = api.coord([x, y + ye]), B = api.coord([x, y - ye]);
    const st = {stroke: color, lineWidth: 2};
    const ch = 4, cw = 3;
    return {type: 'group', children: [
      {type: 'line', shape: {x1: L[0], y1: L[1], x2: R[0], y2: R[1]}, style: st},
      {type: 'line', shape: {x1: L[0], y1: L[1] - ch, x2: L[0], y2: L[1] + ch}, style: st},
      {type: 'line', shape: {x1: R[0], y1: R[1] - ch, x2: R[0], y2: R[1] + ch}, style: st},
      {type: 'line', shape: {x1: T[0], y1: T[1], x2: B[0], y2: B[1]}, style: st},
      {type: 'line', shape: {x1: T[0] - cw, y1: T[1], x2: T[0] + cw, y2: T[1]}, style: st},
      {type: 'line', shape: {x1: B[0] - cw, y1: B[1], x2: B[0] + cw, y2: B[1]}, style: st}
    ]};
  };
}
function points(gi, xs, ys, yerr, xerr, color, symbol, size) {
  series.push({type: 'custom', xAxisIndex: gi * 2, yAxisIndex: gi * 2, renderItem: errorBarRender(color),
    data: xs.map((x, i) => [x, ys[i], xerr, yerr[i]]), silent: true, z: 3});
  series.push({type: 'scatter', xAxisIndex: gi * 2, yAxisIndex: gi * 2, symbol: symbol, symbolSize: size,
    data: xs.map((x, i) => [x, ys[i]]), silent: true, z: 4,
    itemStyle: {color: 'rgba(255,255,255,0)', borderColor: color, borderWidth: 2}});
}
points(1, b_greenX, b_greenY, b_greenYErr, b_xErr, GREEN, 'rect', 15);
points(1, b_blueX, b_blueY, b_blueYErr, b_xErr, BLUE, 'triangle', [16, 14]);
points(1, b_redX, b_redY, b_redYErr, b_xErr, RED, 'circle', 17);
points(3, d_redX, d_redY, d_redYErr, d_xErr, RED, 'circle', 17);
points(3, d_blueX, d_blueY, d_blueYErr, d_xErr, BLUE, 'triangle', [16, 14]);
points(3, d_greenX, d_greenY, d_greenYErr, d_xErr, GREEN, 'rect', 15);

const panelLabels = [['(a)', 112, 35], ['(b)', 120, 344], ['(c)', 107, 671], ['(d)', 120, 977]];
const chart = echarts.init(document.getElementById('chart'), null, {renderer: 'canvas'});
chart.setOption({
  animation: false,
  backgroundColor: '#fff',
  grid: grids,
  xAxis: xAxes,
  yAxis: yAxes,
  series: series,
  graphic: panelLabels.map(p => ({type: 'text', x: p[1], y: p[2], z: 10,
    style: {text: p[0], fontSize: 24, fontFamily: FONT, fill: '#000', verticalAlign: 'middle', align: 'left'}}))
});
</script></body></html>
